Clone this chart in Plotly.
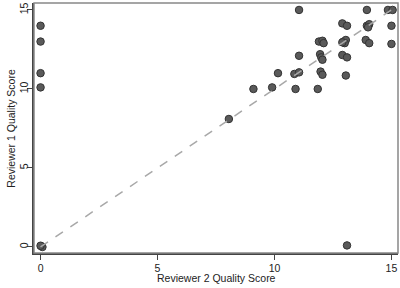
import plotly.graph_objects as go

# Reviewer 2 (x) and Reviewer 1 (y) quality scores (jittered)
reviewer2 = [0.0, 0.0, 0.0, 0.0, 0.03, 0.08, 0.0, 13.1, 8.05,
             9.1, 9.9, 10.9, 11.85,
             10.15, 10.85, 11.05, 11.97, 12.05, 13.05,
             11.05, 11.95, 12.0, 12.05, 12.9, 13.1,
             11.9, 12.05, 12.1, 12.95, 13.05, 13.0, 12.9, 13.9, 14.05, 15.0,
             12.9, 13.1, 13.95, 14.05, 14.0, 15.0,
             11.05, 13.95, 14.85, 15.05]
reviewer1 = [14.0, 13.0, 11.0, 10.1, 0.05, 0.0, 0.08, 0.1, 8.1,
             10.0, 10.1, 10.0, 10.0,
             11.0, 10.95, 11.05, 11.1, 10.9, 10.85,
             12.1, 12.2, 12.0, 11.85, 12.15, 12.0,
             13.0, 13.05, 12.9, 13.0, 13.1, 12.9, 12.95, 13.1, 12.9, 12.85,
             14.15, 14.0, 14.0, 14.1, 13.9, 14.0,
             15.0, 15.0, 15.0, 15.0]
ref_line = [0, 15]
x_ticks = [0, 5, 10, 15]
y_ticks = [0, 5, 10, 15]
x_title = "Reviewer 2 Quality Score"
y_title = "Reviewer 1 Quality Score"

fig = go.Figure()
fig.add_trace(go.Scatter(
    x=reviewer2, y=reviewer1, mode="markers",
    marker=dict(size=7.5, color="#5a5a5a", line=dict(color="#333", width=1)),
    showlegend=False))
fig.add_trace(go.Scatter(
    x=ref_line, y=ref_line, mode="lines",
    line=dict(color="#a8a8a8", width=1.5, dash="dash"),
    showlegend=False))

font = dict(family="Liberation Sans, Arial, sans-serif", size=10.5, color="#222")
tick_font = dict(family="Liberation Sans, Arial, sans-serif", size=10.5, color="#222")
fig.update_layout(
    width=400, height=288,
    margin=dict(l=34, r=2, t=3, b=35, autoexpand=False),
    paper_bgcolor="white", plot_bgcolor="white",
    font=font,
    xaxis=dict(range=[-0.28, 15.28], tickvals=x_ticks, showgrid=False, zeroline=False,
               showline=True, linecolor="#444", linewidth=2, tickfont=tick_font,
               ticks="outside", ticklen=5, tickcolor="#444", automargin=False,
               ticklabelstandoff=-1),
    yaxis=dict(range=[-0.38, 15.44], tickvals=y_ticks, showgrid=False, zeroline=False,
               showline=True, linecolor="#444", linewidth=2, tickfont=tick_font,
               ticks="outside", ticklen=5, tickcolor="#444", tickangle=-90, automargin=False,
               ticklabelstandoff=-5),
    shapes=[dict(type="rect", xref="paper", yref="paper", x0=0, y0=0, x1=1, y1=1,
                 line=dict(color="#888", width=1.5))],
    annotations=[
        dict(text=x_title, xref="paper", yref="paper", x=0.5, y=-0.098,
             xanchor="center", yanchor="middle", showarrow=False, font=font),
        dict(text=y_title, xref="paper", yref="paper", x=-0.064, y=0.5,
             xanchor="center", yanchor="middle", textangle=-90, showarrow=False, font=font),
    ],
)
fig.write_html("out.html", config={"displayModeBar": False},
               post_script="document.body.style.margin='0px';")
